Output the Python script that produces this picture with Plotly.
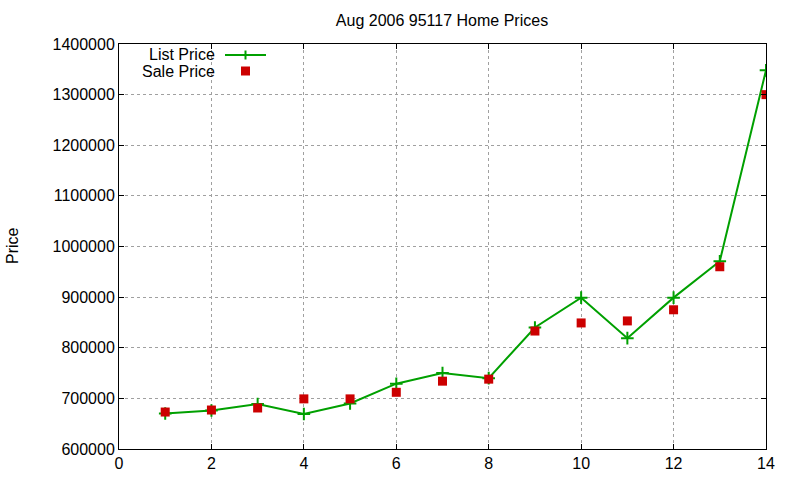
import plotly.graph_objects as go

months = list(range(1, 15))
list_price = [670000, 676000, 689000, 669000, 690000, 729000, 750000, 740000,
              840000, 899000, 819000, 899000, 971000, 1348000]
sale_price = [673000, 677000, 681000, 699000, 699000, 712000, 734000, 738000,
              833000, 849000, 853000, 875000, 960000, 1300000]
series_names = ["List Price", "Sale Price"]
title = "Aug 2006 95117 Home Prices"
ylabel = "Price"

GREEN = "#00a000"
RED = "#cc0000"
FONT = "Liberation Sans, Arial, sans-serif"
FS = 16

W, H = 800, 480
L, R, T, B = 119, 34, 44, 31
plot_w = W - L - R
plot_h = H - T - B


def px(xp):
    return (xp - L) / plot_w


def py(yp):
    return 1 - (yp - T) / plot_h


fig = go.Figure()
fig.add_trace(go.Scatter(
    x=months, y=list_price, mode="lines+markers", name=series_names[0],
    line=dict(color=GREEN, width=2),
    marker=dict(symbol="cross-thin", size=9, line=dict(color=GREEN, width=2)),
))
fig.add_trace(go.Scatter(
    x=months, y=sale_price, mode="markers", name=series_names[1],
    marker=dict(symbol="square", size=9, color=RED),
))

axis_common = dict(
    showline=True, linecolor="black", linewidth=1, mirror="ticks",
    ticks="inside", ticklen=5, tickcolor="black",
    showgrid=True, gridcolor="#a0a0a0", griddash="dot", gridwidth=1,
    zeroline=False, automargin=False,
    tickfont=dict(family=FONT, size=FS, color="black"),
)

fig.update_layout(
    width=W, height=H,
    margin=dict(l=L, r=R, t=T, b=B),
    paper_bgcolor="white", plot_bgcolor="white",
    title=dict(text=title, x=px(442), xref="paper", xanchor="center",
               y=1 - 20 / H, yanchor="middle", automargin=False,
               font=dict(family=FONT, size=FS, color="black")),
    xaxis=dict(range=[0, 14], dtick=2, tick0=0, **axis_common),
    yaxis=dict(range=[600000, 1400000], dtick=100000, tick0=600000,
               tickformat="d", **axis_common),
    showlegend=False,
)

# y-axis label
fig.add_annotation(text=ylabel, xref="paper", yref="paper", x=px(12), y=py(246),
                   xanchor="center", yanchor="middle", textangle=-90,
                   showarrow=False, font=dict(family=FONT, size=FS, color="black"))

# legend (gnuplot style: text on left, sample on right)
for name, ypx in zip(series_names, [55, 71]):
    fig.add_annotation(text=name, xref="paper", yref="paper",
                       x=px(217), y=py(ypx), xanchor="right", yanchor="middle",
                       showarrow=False,
                       font=dict(family=FONT, size=FS, color="black"))

# List price sample: line + cross
fig.add_shape(type="line", xref="paper", yref="paper",
              x0=px(225), x1=px(266), y0=py(55), y1=py(55),
              line=dict(color=GREEN, width=2))
fig.add_shape(type="line", xref="paper", yref="paper",
              x0=px(245.5), x1=px(245.5), y0=py(50.5), y1=py(59.5),
              line=dict(color=GREEN, width=2))
# Sale price sample: square
fig.add_shape(type="rect", xref="paper", yref="paper",
              x0=px(241), x1=px(250), y0=py(66.5), y1=py(75.5),
              line=dict(width=0), fillcolor=RED)

fig.write_html("out.html")
